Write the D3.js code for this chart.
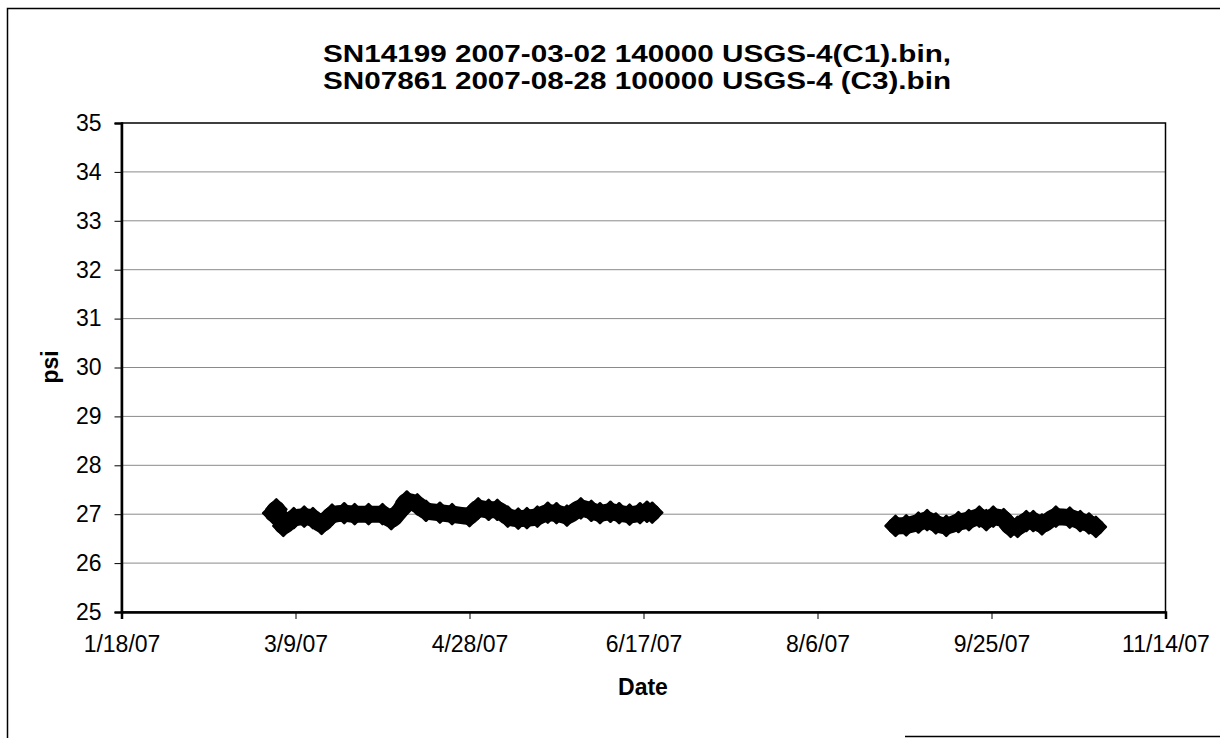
<!DOCTYPE html>
<meta charset="utf-8">
<style>
  body { margin: 0; background: #fff; }
  text { font-family: Arial, "Liberation Sans", sans-serif; fill: #000; }
  .tick text { font-size: 23px; }
  .grid line { stroke: #8a8a8a; stroke-width: 1px; }
  .title { font-size: 24px; font-weight: bold; text-anchor: middle; }
  .axis-label { font-size: 23px; font-weight: bold; text-anchor: middle; }
</style>
<svg width="1220" height="738"></svg>
<script src="https://d3js.org/d3.v7.min.js"></script>
<script>
  // C1 logger, spring 2007
  var c1Dates = ["2007-03-02 14:00", "2007-03-03 12:00", "2007-03-05 12:00", "2007-03-08 12:00", "2007-03-11 12:00",
    "2007-03-14 00:00", "2007-03-16 12:00", "2007-03-19 12:00", "2007-03-23 00:00", "2007-03-26 00:00",
    "2007-03-30 00:00", "2007-04-03 00:00", "2007-04-05 12:00", "2007-04-08 00:00", "2007-04-10 00:00",
    "2007-04-13 00:00", "2007-04-15 12:00", "2007-04-19 12:00", "2007-04-23 00:00", "2007-04-28 00:00",
    "2007-04-30 12:00", "2007-05-03 12:00", "2007-05-06 00:00", "2007-05-09 00:00", "2007-05-12 00:00",
    "2007-05-14 12:00", "2007-05-17 12:00", "2007-05-20 12:00", "2007-05-23 00:00", "2007-05-26 00:00",
    "2007-05-30 00:00", "2007-06-02 00:00", "2007-06-04 12:00", "2007-06-07 12:00", "2007-06-10 00:00",
    "2007-06-13 00:00", "2007-06-16 00:00", "2007-06-18 00:00", "2007-06-19 12:00"]
  var c1Psi = [27.02, 27.10, 26.76, 26.92, 26.95,
    26.92, 26.80, 26.99, 27.02, 27.00,
    27.00, 27.00, 26.90, 27.07, 27.26,
    27.20, 27.07, 27.03, 27.00, 26.96,
    27.12, 27.09, 27.09, 26.95, 26.91,
    26.92, 26.95, 27.03, 27.02, 26.97,
    27.12, 27.07, 27.02, 27.05, 27.02,
    26.99, 27.02, 27.05, 27.03]

  // C3 logger, autumn 2007
  var c3Dates = ["2007-08-28 10:00", "2007-08-31 12:00", "2007-09-04 00:00", "2007-09-06 12:00", "2007-09-09 00:00",
    "2007-09-12 00:00", "2007-09-15 12:00", "2007-09-18 12:00", "2007-09-21 12:00", "2007-09-23 12:00",
    "2007-09-25 12:00", "2007-09-28 12:00", "2007-09-30 12:00", "2007-10-02 12:00", "2007-10-05 00:00",
    "2007-10-07 00:00", "2007-10-09 12:00", "2007-10-13 12:00", "2007-10-17 12:00", "2007-10-20 12:00",
    "2007-10-23 00:00", "2007-10-25 00:00"]
  var c3Psi = [26.76, 26.77, 26.83, 26.88, 26.81,
    26.76, 26.84, 26.88, 26.95, 26.88,
    26.95, 26.90, 26.74, 26.74, 26.86,
    26.86, 26.79, 26.95, 26.93, 26.86,
    26.81, 26.74]

  var xTickLabels = ["1/18/07", "3/9/07", "4/28/07", "6/17/07", "8/6/07", "9/25/07", "11/14/07"]
  var yTicks = [25, 26, 27, 28, 29, 30, 31, 32, 33, 34, 35]
  var titleLines = ["SN14199 2007-03-02 140000 USGS-4(C1).bin,", "SN07861 2007-08-28 100000 USGS-4 (C3).bin"]

  var svg = d3.select("svg")
  var plotL = 121.5, plotR = 1165.5, plotT = 123, plotB = 612

  var parseRow = d3.timeParse("%Y-%m-%d %H:%M")
  var parseTick = d3.timeParse("%m/%d/%y")
  var xTickDates = xTickLabels.map(parseTick)

  var x = d3.scaleTime()
    .domain([xTickDates[0], xTickDates[xTickDates.length - 1]])
    .range([plotL, plotR])
  var y = d3.scaleLinear()
    .domain([25, 35])
    .range([plotB, plotT])

  // outer chart frame (scanned page: left, top and a bit of the bottom edge)
  svg.append("path")
    .attr("d", "M7.5,738 L7.5,8.5 L1220,8.5 M905,736.5 L1220,736.5")
    .attr("fill", "none")
    .attr("stroke", "#000")
    .attr("stroke-width", 1.5)

  // title
  svg.selectAll(".title")
    .data(titleLines)
    .enter().append("text")
    .attr("class", "title")
    .attr("x", 637)
    .attr("y", (d, i) => 62 + i * 27)
    .attr("textLength", 628)
    .attr("lengthAdjust", "spacingAndGlyphs")
    .text(d => d)

  // gridlines
  svg.append("g")
    .attr("class", "grid")
    .selectAll("line")
    .data(yTicks.slice(1, -1))
    .enter().append("line")
    .attr("x1", plotL).attr("x2", plotR)
    .attr("y1", d => y(d)).attr("y2", d => y(d))

  // plot frame
  svg.append("rect")
    .attr("x", plotL).attr("y", plotT)
    .attr("width", plotR - plotL).attr("height", plotB - plotT)
    .attr("fill", "none")
    .attr("stroke", "#000")
    .attr("stroke-width", 1.5)

  var xAxis = svg.append("g")
    .attr("transform", "translate(0," + plotB + ")")
    .call(d3.axisBottom(x)
      .tickValues(xTickDates)
      .tickFormat((d, i) => xTickLabels[i])
      .tickSize(7)
      .tickPadding(10))
  xAxis.select(".domain").attr("stroke-width", 2.5)
  xAxis.selectAll(".tick text").attr("dy", "0.71em").attr("y", 24)

  var yAxis = svg.append("g")
    .attr("transform", "translate(" + plotL + ",0)")
    .call(d3.axisLeft(y)
      .tickValues(yTicks)
      .tickFormat(d3.format("d"))
      .tickSize(7)
      .tickPadding(13))
  yAxis.select(".domain").attr("stroke-width", 2.5)

  svg.append("text")
    .attr("class", "axis-label")
    .attr("x", 643).attr("y", 695)
    .text("Date")

  svg.append("text")
    .attr("class", "axis-label")
    .attr("transform", "translate(58,367) rotate(-90)")
    .text("psi")

  // square diamond marker
  var diamond = {
    draw: function (ctx, size) {
      var r = Math.sqrt(size / 2)
      ctx.moveTo(0, -r)
      ctx.lineTo(r, 0)
      ctx.lineTo(0, r)
      ctx.lineTo(-r, 0)
      ctx.closePath()
    }
  }
  var marker = d3.symbol().type(diamond).size(200)

  var line = d3.line()
    .curve(d3.curveMonotoneX)
    .x(d => x(d.date))
    .y(d => y(d.psi))

  var series = [
    c1Dates.map((d, i) => ({ date: parseRow(d), psi: c1Psi[i] })),
    c3Dates.map((d, i) => ({ date: parseRow(d), psi: c3Psi[i] }))
  ]

  series.forEach(function (s) {
    svg.append("path")
      .datum(s)
      .attr("d", line)
      .attr("fill", "none")
      .attr("stroke", "#000")
      .attr("stroke-width", 17)
      .attr("stroke-linejoin", "round")
      .attr("stroke-linecap", "round")

    svg.append("g")
      .selectAll("path")
      .data(s)
      .enter().append("path")
      .attr("transform", d => "translate(" + x(d.date) + "," + y(d.psi) + ")")
      .attr("d", marker)
      .attr("fill", "#000")
      .attr("stroke", "#000")
      .attr("stroke-width", 2.5)
      .attr("stroke-linejoin", "round")
  })
</script>
